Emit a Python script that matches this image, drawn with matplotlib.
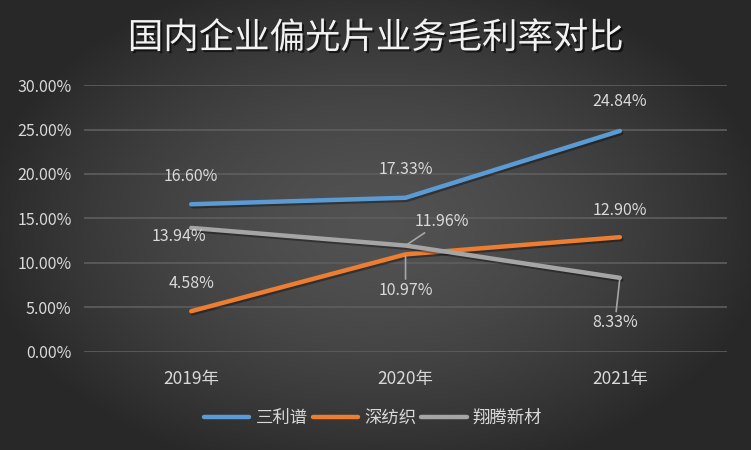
import numpy as np
import matplotlib
matplotlib.use("Agg")
import matplotlib.pyplot as plt
import matplotlib.patheffects as pe
from matplotlib.lines import Line2D

plt.rcParams['font.family'] = ['Noto Sans CJK SC', 'DejaVu Sans']

years = ['2019年', '2020年', '2021年']
sanlipu = [16.60, 17.33, 24.84]
shenfang = [4.58, 10.97, 12.90]
xiangteng = [13.94, 11.96, 8.33]
names = ['三利谱', '深纺织', '翔腾新材']
colors = ['#5B9BD5', '#ED7D31', '#A5A5A5']
yticks = [0, 5, 10, 15, 20, 25, 30]

txt = '#D9D9D9'

fig = plt.figure(figsize=(7.51, 4.5), dpi=100)

# radial gradient background
bg = fig.add_axes([0, 0, 1, 1])
gx, gy = np.meshgrid(np.linspace(-1, 1, 751), np.linspace(-1, 1, 450))
r = np.clip(np.sqrt((gx / 1.05) ** 2 + (gy / 1.15) ** 2), 0, 1)
shade = 0.32 - 0.16 * r ** 1.6
bg.imshow(np.dstack([shade, shade, shade]), aspect='auto', extent=[0, 1, 0, 1])
bg.set_axis_off()

ax = fig.add_axes([0.1119, 0.2178, 0.8562, 0.5933])
ax.set_facecolor('none')
for s in ax.spines.values():
    s.set_visible(False)
ax.set_xlim(-0.5, 2.5)
ax.set_ylim(0, 30)
ax.set_yticks(yticks)
ax.set_yticklabels(['%.2f%%' % t for t in yticks])
ax.set_xticks(range(len(years)))
ax.set_xticklabels(years)
ax.tick_params(length=0, colors=txt, labelsize=11.5)
ax.tick_params(axis='y', pad=9)
ax.tick_params(axis='x', pad=13, labelsize=12.5)
ax.grid(axis='y', color='#5E5E5E', lw=1.2)
ax.set_axisbelow(True)

series = [sanlipu, shenfang, xiangteng]
for vals, c, n in zip(series, colors, names):
    ax.plot(range(3), vals, color=c, lw=3.2, solid_capstyle='round',
            solid_joinstyle='round', label=n, zorder=3,
            path_effects=[pe.SimpleLineShadow(offset=(1, -1.5), alpha=0.35), pe.Normal()])

# label offsets in pixels (dx, dy)
offs = [
    [(0, 28), (0, 28), (0, 29)],
    [(0, 28), (0, -36), (0, 27)],
    [(-12, -9), (36, 24), (-5, -45)],
]
leader = {(1, 1), (2, 1), (2, 2)}
for si, vals in enumerate(series):
    for i, v in enumerate(vals):
        dx, dy = offs[si][i]
        kw = {}
        if (si, i) in leader:
            kw['arrowprops'] = dict(arrowstyle='-', color='#A6A6A6', lw=1.2,
                                    shrinkA=0, shrinkB=1)
        ax.annotate('%.2f%%' % v, xy=(i, v), xytext=(dx, dy),
                    textcoords='offset pixels', ha='center', va='center',
                    color=txt, fontsize=11.5, zorder=5, **kw)

fig.text(0.5, 0.915, '国内企业偏光片业务毛利率对比', ha='center', va='center',
         color='#F2F2F2', fontsize=25.5,
         path_effects=[pe.withSimplePatchShadow(offset=(1.5, -1.5), shadow_rgbFace='black', alpha=0.6)])

handles = [Line2D([0], [0], color=c, lw=3.2, solid_capstyle='round') for c in colors]
leg = fig.legend(handles, names, loc='center', bbox_to_anchor=(0.497, 0.071), ncol=3,
                 frameon=False, fontsize=12.5, handlelength=2.6, handletextpad=0.35,
                 columnspacing=0.3, labelcolor=txt)

fig.savefig('out.png', dpi=100)
